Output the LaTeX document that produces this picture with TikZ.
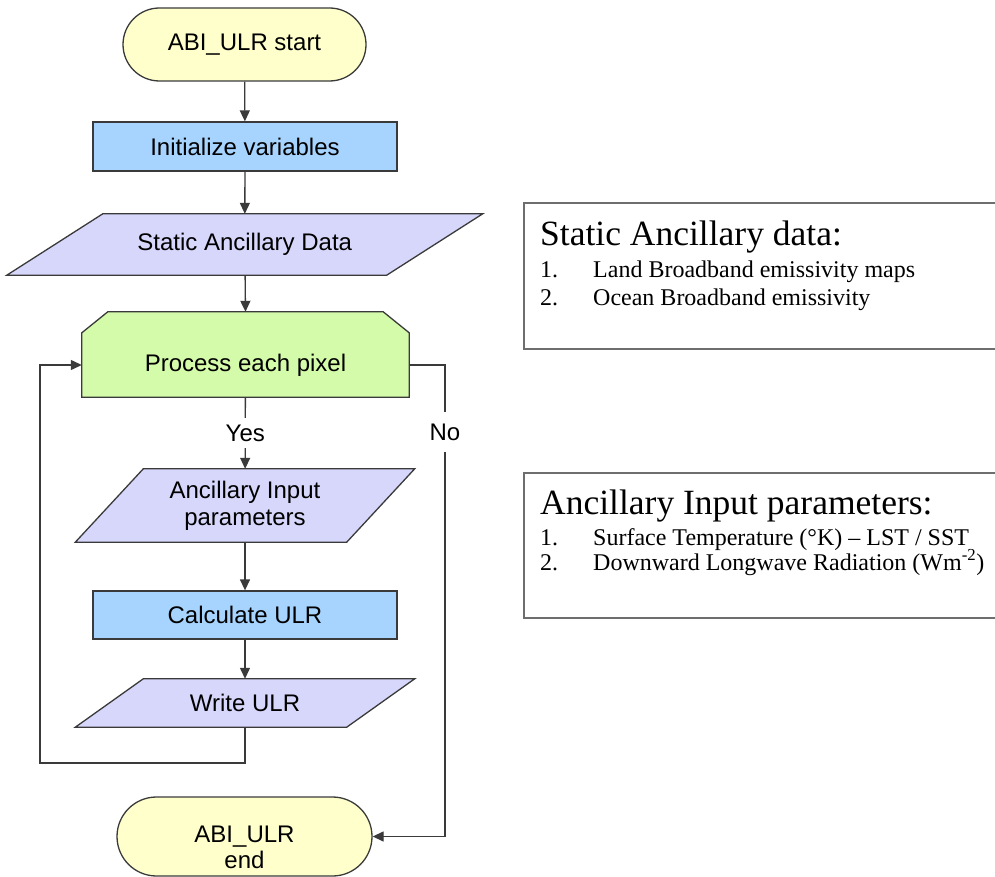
\documentclass[tikz,border=0pt]{standalone}
\usepackage{fontspec}
\setmainfont{Liberation Sans}
\newfontfamily\boxserif{Liberation Serif}
\usetikzlibrary{arrows.meta,backgrounds}

\definecolor{termfill}{HTML}{FFFFCC}
\definecolor{procfill}{HTML}{A6D4FE}
\definecolor{iofill}{HTML}{D7D7FC}
\definecolor{loopfill}{HTML}{D4FBA9}
\definecolor{edgegray}{HTML}{3A3A3A}
\definecolor{boxgray}{HTML}{6E6E6E}

\begin{document}
\begin{tikzpicture}[x=1pt,y=-1pt,
  every node/.style={font=\fontsize{24}{27}\selectfont, text=black},
  term/.style={rectangle, draw=edgegray, fill=termfill, line width=1.3pt,
    rounded corners=#1, inner sep=0pt},
  procbox/.style={rectangle, draw=edgegray, fill=procfill, line width=1.3pt, inner sep=0pt},
  iobox/.style={rectangle, inner sep=0pt, align=center},
  loopbox/.style={rectangle, inner sep=0pt},
  shapeline/.style={draw=edgegray, line width=1.3pt, line join=miter},
  flow/.style={draw=edgegray, line width=1.3pt, -{Triangle[length=11pt,width=10pt]}},
  lab/.style={fill=white, inner xsep=3pt, inner ysep=7pt},
  infobox/.style={rectangle, draw=boxgray, line width=1.8pt, inner sep=0pt, anchor=north west},
  infotitle/.style={font=\boxserif\fontsize{35.5}{40}\selectfont, anchor=base west, inner sep=0pt},
  infoitem/.style={font=\boxserif\fontsize{24}{27}\selectfont, anchor=base west, inner sep=0pt},
]
\useasboundingbox (0,0) rectangle (995,877);

% flow chart nodes
\node[term=36.5pt, minimum width=243pt, minimum height=73pt] (start) at (244.5,44.5) {ABI\_ULR start};
\node[procbox, minimum width=304pt, minimum height=49pt] (init) at (245,146.5) {Initialize variables};
\node[iobox, minimum width=379.5pt, minimum height=61pt] (sad) at (244.75,244.5) {Static Ancillary Data};
\node[loopbox, minimum width=327pt, minimum height=64pt] (proc) at (245.5,365) {Process each pixel};
\node[iobox, minimum width=271pt, minimum height=73pt] (aip) at (245,505.5) {Ancillary Input\\parameters};
\node[procbox, minimum width=304pt, minimum height=48pt] (calc) at (245,615) {Calculate ULR};
\node[iobox, minimum width=271pt, minimum height=48pt] (wulr) at (245,703) {Write ULR};
\node[term=39.5pt, minimum width=255pt, minimum height=79pt,
  label={[yshift=-11pt, align=center, font=\fontsize{24}{26}\selectfont]center:ABI\_ULR\\end}] (end) at (244.5,836.5) {};

% parallelogram and loop-limit outlines behind the texts
\begin{scope}[on background layer]
  \foreach \n/\s in {sad/48, aip/34, wulr/34}
    \filldraw[shapeline, fill=iofill]
      ([xshift=\s]\n.north west) -- ([xshift=\s]\n.north east)
      -- ([xshift=-\s]\n.south east) -- ([xshift=-\s]\n.south west) -- cycle;
  \filldraw[shapeline, fill=loopfill]
    (proc.south west) -- (proc.north west)
    -- ([xshift=26, yshift=21]proc.north west) -- ([xshift=-26, yshift=21]proc.north east)
    -- (proc.north east) -- (proc.south east) -- cycle;
\end{scope}

% connectors
\draw[flow] (start) -- (init);
\draw[flow] (init) -- (sad);
\draw[flow] (sad) -- ([yshift=21]proc.north);
\draw[flow] (proc) -- node[lab] (yes) {Yes} (aip);
\draw[flow] (aip) -- (calc);
\draw[flow] (calc) -- (wulr);
\coordinate (loopcorner) at (40,763);
\draw[flow] (wulr) |- (loopcorner) |- (proc.west);
\coordinate (norail) at (445,365);
\draw[flow] (proc.east) -- (norail)
  -- node[lab, pos=0.142, inner ysep=12pt] (no) {No} (norail |- end.east) -- (end.east);

% side notes
\node[infobox, minimum width=500pt, minimum height=146pt] (sbox) at (523,202) {};
\node[infotitle] (stitle) at (540,246) {Static Ancillary data:};
\node[infoitem] (sitem1) at (540,277) {\makebox[53pt][l]{1.}Land Broadband emissivity maps};
\node[infoitem] (sitem2) at (540,305) {\makebox[53pt][l]{2.}Ocean Broadband emissivity};

\node[infobox, minimum width=500pt, minimum height=145pt] (abox) at (523,472) {};
\node[infotitle] (atitle) at (540,514) {Ancillary Input parameters:};
\node[infoitem] (aitem1) at (540,545) {\makebox[53pt][l]{1.}Surface Temperature (°K) – LST / SST};
\node[infoitem] (aitem2) at (540,570) {\makebox[53pt][l]{2.}Downward Longwave Radiation (Wm\textsuperscript{-2})};
\end{tikzpicture}
\end{document}
